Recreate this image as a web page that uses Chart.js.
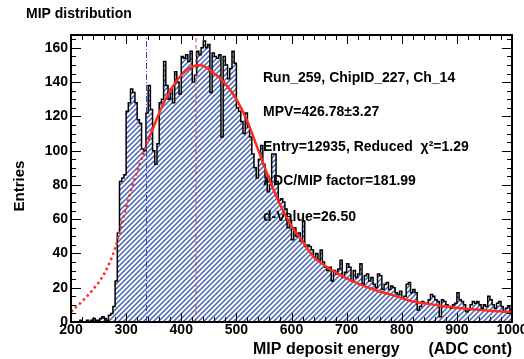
<!DOCTYPE html>
<html><head><meta charset="utf-8">
<script src="https://cdn.jsdelivr.net/npm/chart.js@4/dist/chart.umd.min.js"></script>
<style>html,body{margin:0;padding:0;background:#fff;overflow:hidden}canvas{display:block}</style>
</head><body>
<canvas id="c" width="524" height="359"></canvas>
<script>
// ---------- data ----------
const binStart = 200;
const binWidth = 4;
const entries = [
  0,0,0,0,1,0,0,1,0,1, 2,1,1,2,3,2,1,4,5,9,
  24,52,82,84,86,123,128,136,134,128, 118,116,101,100,122,138,124,100,92,104,
  128,130,152,138,130,136,128,146,140,133, 155,154,156,152,158,140,144,158,156,160,
  164,160,162,134,157,155,154,156,108,155, 150,142,148,158,151,125,123,117,110,122,
  114,108,98,90,84,95,103,92,84,76, 80,98,98,82,71,72,70,66,55,59,
  48,55,50,52,47,59,44,45,44,42, 38,40,36,42,35,32,30,32,24,30,
  28,31,36,26,29,34,32,24,30,26, 28,34,22,27,28,24,26,22,20,28,
  27,19,22,23,19,21,20,17,16,18, 14,15,22,23,17,19,17,7,9,12,
  11,11,13,16,15,13,12,3,13,12, 10,9,8,10,11,17,13,12,10,6,
  7,10,12,11,12,10,8,10,9,15, 13,10,8,11,12,9,6,8,9,7
];
const fitX = [200,210,220,240,260,280,290,300,310,320,330,340,350,360,370,380,390,400,410,420,430,440,460,480,500,520,540,560,580,600,620,640,660,680,700,720,740,760,780,800,820,840,860,880,900,920,940,960,980,1000];
const fitY = [6,9,12,19,28,43,55,67,78,88,97,106,114,122,129,135,140,144,147,149,150,149.5,145,139,130,117,100,83,68,56,47,38,33,29,25.5,22.5,20,17.8,16,14,12,11,10,9,8.3,7.6,7.1,6.6,6.2,5.8];
const fitRangeStart = 340;
const rangeLine = 337;
const mpv = 426.78;
const xTicks = [200,300,400,500,600,700,800,900,1000];
const yTicks = [0,20,40,60,80,100,120,140,160];
const xMinorStep = 20;
const yMinorStep = 5;
const chartTitle = "MIP distribution";
const xTitleA = "MIP deposit energy";
const xTitleB = "(ADC cont)";
const yTitle = "Entries";
const infoLines = [
  "Run_259, ChipID_227, Ch_14",
  "MPV=426.78\u00b13.27",
  "Entry=12935, Reduced  \u03c7\u00b2=1.29",
  "ADC/MIP factor=181.99",
  "d-Value=26.50"
];

// ---------- derived ----------
const histPts = entries.map((v,i)=>({x: binStart + i*binWidth, y: v}));
histPts.push({x: binStart + entries.length*binWidth, y: entries[entries.length-1]});
const fitPts = fitX.map((x,i)=>({x, y: fitY[i]}));
const fitDotted = fitPts.filter(p=>p.x<=fitRangeStart);
const fitSolid = fitPts.filter(p=>p.x>=fitRangeStart);
const X_MIN = 200, X_MAX = 1000, Y_MIN = 0, Y_MAX = 167.5;

// hatch pattern
function hatch(){
  const s = 5;
  const c = document.createElement('canvas'); c.width = s; c.height = s;
  const g = c.getContext('2d');
  g.fillStyle = '#fff'; g.fillRect(0,0,s,s);
  g.strokeStyle = '#4464b8'; g.lineWidth = 1.5;
  g.beginPath();
  g.moveTo(-1, s+1); g.lineTo(s+1, -1);
  g.moveTo(-1, 1); g.lineTo(1, -1);
  g.moveTo(s-1, s+1); g.lineTo(s+1, s-1);
  g.stroke();
  return g.createPattern(c, 'repeat');
}
const ctx0 = document.getElementById('c').getContext('2d');
const pattern = hatch();

const FONT = '"Liberation Sans", Arial, Helvetica, sans-serif';

const decor = {
  id: 'decor',
  afterDatasetDraw(chart, args){
    if (args.index !== 0) return;
    const {ctx} = chart;
    ctx.save();
    ctx.fillStyle = '#000';
    ctx.font = 'bold 14px ' + FONT;
    ctx.textAlign = 'left'; ctx.textBaseline = 'middle';
    const ys = [78, 112, 147, 181, 217];
    infoLines.forEach((t,i)=>ctx.fillText(t, 263, ys[i]));
    ctx.restore();
  },
  afterDatasetsDraw(chart){
    const {ctx, chartArea:a, scales:{x, y}} = chart;
    ctx.save();
    ctx.strokeStyle = '#000'; ctx.lineWidth = 1;
    const seg = (x1,y1,x2,y2)=>{ctx.beginPath();ctx.moveTo(x1,y1);ctx.lineTo(x2,y2);ctx.stroke();};
    for (let v = X_MIN; v <= X_MAX + 1e-6; v += xMinorStep){
      const px = Math.round(x.getPixelForValue(v)) + 0.5;
      const L = xTicks.includes(v) ? 9 : 5;
      seg(px, a.bottom, px, a.bottom - L);
      seg(px, a.top, px, a.top + L);
    }
    for (let v = Y_MIN; v <= Y_MAX + 1e-6; v += yMinorStep){
      const py = Math.round(y.getPixelForValue(v)) + 0.5;
      const L = yTicks.includes(v) ? 10 : 5;
      seg(a.left, py, a.left + L, py);
      seg(a.right, py, a.right - L, py);
    }
    ctx.lineWidth = 2;
    ctx.strokeRect(a.left, a.top, a.right - a.left, a.bottom - a.top);
    // tick labels
    ctx.fillStyle = '#000';
    ctx.font = 'bold 14px ' + FONT;
    ctx.textAlign = 'center'; ctx.textBaseline = 'top';
    xTicks.forEach(v=>ctx.fillText(String(v), x.getPixelForValue(v), a.bottom + 1));
    ctx.textAlign = 'right'; ctx.textBaseline = 'middle';
    yTicks.forEach(v=>ctx.fillText(String(v), a.left - 3, y.getPixelForValue(v)));
    // titles
    ctx.font = 'bold 14px ' + FONT;
    ctx.textAlign = 'left'; ctx.textBaseline = 'middle';
    ctx.fillText(chartTitle, 26, 14);
    ctx.font = 'bold 16px ' + FONT;
    ctx.textAlign = 'left';
    ctx.fillText(xTitleA, 253, 350);
    ctx.textAlign = 'right';
    ctx.fillText(xTitleB, a.right, 350);
    ctx.save();
    ctx.translate(20, 186); ctx.rotate(-Math.PI/2);
    ctx.textAlign = 'center'; ctx.textBaseline = 'middle';
    ctx.font = 'bold 15px ' + FONT;
    ctx.fillText(yTitle, 0, 0);
    ctx.restore();
    ctx.restore();
  }
};

new Chart(ctx0, {
  type: 'line',
  data: {
    datasets: [
      {
        label: 'hist', data: histPts, stepped: true,
        borderColor: '#000', borderWidth: 1.5, backgroundColor: pattern,
        fill: 'origin', pointRadius: 0, order: 3
      },
      {
        label: 'range', data: [{x: rangeLine, y: Y_MIN}, {x: rangeLine, y: Y_MAX}],
        borderColor: '#3b3bd0', borderWidth: 1, borderDash: [6,2,1,2],
        pointRadius: 0, fill: false, order: 2
      },
      {
        label: 'mpv', data: [{x: mpv, y: Y_MIN}, {x: mpv, y: Y_MAX}],
        borderColor: '#e03a3a', borderWidth: 1, borderDash: [4,3],
        pointRadius: 0, fill: false, order: 2
      },
      {
        label: 'fitDotted', data: fitDotted, borderColor: '#ff2a1a', borderWidth: 2.5,
        borderDash: [2.5,3], cubicInterpolationMode: 'monotone', tension: 0.4,
        pointRadius: 0, fill: false, order: 1
      },
      {
        label: 'fitSolid', data: fitSolid, borderColor: '#ff2a1a', borderWidth: 2.5,
        cubicInterpolationMode: 'monotone', tension: 0.4,
        pointRadius: 0, fill: false, order: 1
      }
    ]
  },
  options: {
    responsive: false, animation: false,
    layout: { padding: { left: 71, top: 35, right: 12, bottom: 37 } },
    plugins: { legend: { display: false }, tooltip: { enabled: false }, title: { display: false } },
    scales: {
      x: { type: 'linear', min: X_MIN, max: X_MAX, display: false },
      y: { type: 'linear', min: Y_MIN, max: Y_MAX, display: false }
    }
  },
  plugins: [decor]
});
</script>
</body></html>
